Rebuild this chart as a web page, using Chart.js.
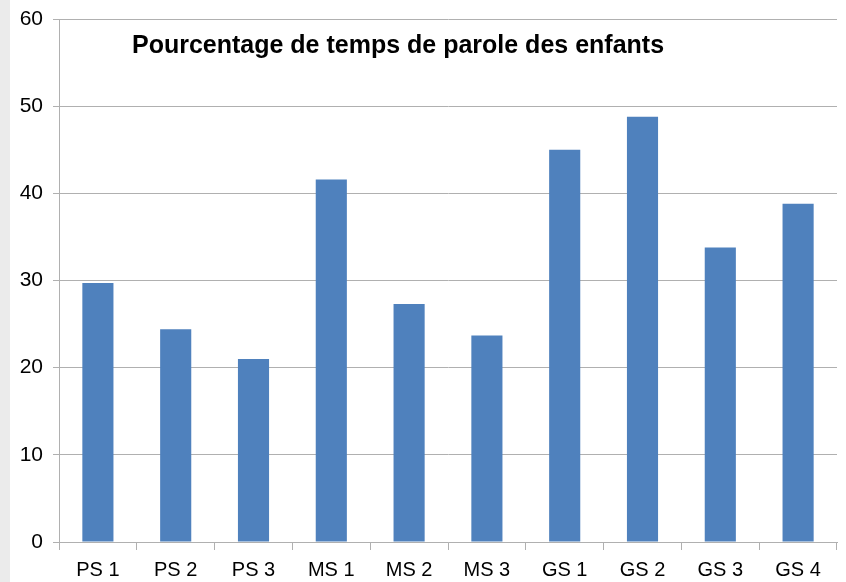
<!DOCTYPE html>
<html>
<head>
<meta charset="utf-8">
<script src="https://cdn.jsdelivr.net/npm/chart.js@4"></script>
<style>
    html, body { margin: 0; padding: 0; background: #ebebeb; }
    #wrap { position: absolute; left: 10px; top: 0; width: 836px; height: 582px; background: #fff; }
</style>
</head>
<body>
<div id="wrap"><canvas id="chart" width="836" height="582"></canvas></div>
<script>
const CATEGORIES = ['PS 1', 'PS 2', 'PS 3', 'MS 1', 'MS 2', 'MS 3', 'GS 1', 'GS 2', 'GS 3', 'GS 4'];
const PAROLE = [29.7, 24.4, 21.0, 41.6, 27.3, 23.7, 45.0, 48.8, 33.8, 38.8];
const TITLE = 'Pourcentage de temps de parole des enfants';

const GRID = '#b0b0b0';

// title sits inside the plot area, like the original spreadsheet chart
const insideTitle = {
    id: 'insideTitle',
    afterDraw(chart) {
        const ctx = chart.ctx;
        ctx.save();
        ctx.font = 'bold 25px "Liberation Sans", Arial, sans-serif';
        ctx.fillStyle = '#000';
        ctx.textAlign = 'center';
        ctx.textBaseline = 'middle';
        ctx.fillText(TITLE, 388, 46);
        ctx.restore();
    },
};

new Chart(document.getElementById('chart'), {
    type: 'bar',
    data: {
        labels: CATEGORIES,
        datasets: [{
            data: PAROLE,
            backgroundColor: '#4f81bd',
            borderWidth: 0,
            categoryPercentage: 1,
            barPercentage: 0.4,
        }],
    },
    options: {
        responsive: false,
        animation: false,
        devicePixelRatio: 1,
        layout: { padding: { top: 19, right: 9, left: 0, bottom: 0 } },
        plugins: { legend: { display: false }, tooltip: { enabled: false } },
        scales: {
            x: {
                grid: { drawOnChartArea: false, color: GRID, tickLength: 8 },
                border: { color: GRID },
                ticks: { color: '#000', font: { family: '"Liberation Sans", Arial', size: 20 }, padding: 8 },
                afterFit: (s) => { s.height = 40; },
            },
            y: {
                min: 0,
                max: 60,
                ticks: { stepSize: 10, color: '#000', font: { family: '"Liberation Sans", Arial', size: 21 }, padding: 10 },
                grid: { color: GRID, tickLength: 6 },
                border: { color: GRID },
                afterFit: (s) => { s.width = 49; s.paddingTop = 0; s.paddingBottom = 0; },
            },
        },
    },
    plugins: [insideTitle],
});
</script>
</body>
</html>
